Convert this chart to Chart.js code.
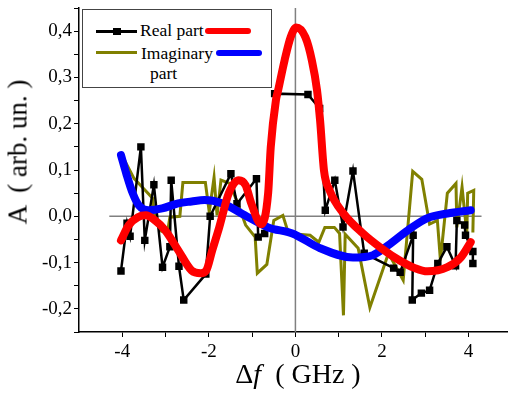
<!DOCTYPE html>
<html>
<head>
<meta charset="utf-8">
<script src="https://cdn.jsdelivr.net/npm/chart.js@4.4.0/dist/chart.umd.min.js"></script>
<style>
    body { margin: 0; background: #fff; }
    #wrap { position: relative; width: 514px; height: 394px; font-family: 'Liberation Serif', 'Times New Roman', serif; }
    #chart { position: absolute; left: 0; top: 0; }
    .abs { position: absolute; line-height: 1; white-space: pre; color: #000; }
    #legend { position: absolute; left: 82px; top: 9px; width: 188px; height: 77px; border: 1px solid #444; background: #fff; }
</style>
</head>
<body>
<div id="wrap">
    <canvas id="chart" width="514" height="394"></canvas>
    <div id="legend"></div>
    <div class="abs" style="left:96px;top:29.5px;width:41px;height:3px;background:#000"></div>
    <div class="abs" style="left:113px;top:27.5px;width:8px;height:7px;background:#000"></div>
    <div class="abs" style="left:140px;top:22px;font-size:17.5px">Real part</div>
    <div class="abs" style="left:205px;top:28px;width:46px;height:6px;border-radius:3px;background:#ff0000"></div>
    <div class="abs" style="left:96px;top:51px;width:41px;height:3px;background:#808000"></div>
    <div class="abs" style="left:141px;top:45.3px;font-size:17.5px">Imaginary</div>
    <div class="abs" style="left:216px;top:49.7px;width:46px;height:6px;border-radius:3px;background:#0000ff"></div>
    <div class="abs" style="left:150px;top:65.3px;font-size:17.5px">part</div>
    <div class="abs" id="xtitle" style="left:298px;top:359.5px;font-size:28px;transform:translateX(-50%)">Δ<i>f</i>  ( GHz )</div>
    <div class="abs" id="ytitle" style="left:18px;top:152px;font-size:27px;transform:translate(-50%,-50%) rotate(-90deg)">A  ( arb. un. )</div>
</div>
<script>
// measured data (GHz, arb. un.)
const realX = [-4.03, -3.89, -3.82, -3.57, -3.48, -3.27, -3.07, -2.90, -2.87, -2.69, -2.58, -2.07, -1.97, -1.49, -1.35, -0.90, -0.86, -0.71, -0.48, 0.29, 0.56, 0.69, 0.91, 1.10, 1.33, 1.59, 2.27, 2.42, 2.72, 2.70, 2.91, 3.10, 3.29, 3.50, 3.70, 3.73, 3.91, 3.93, 4.10, 4.10];
const realY = [-0.118, -0.015, -0.043, 0.150, -0.052, 0.068, -0.110, -0.066, 0.078, -0.108, -0.181, -0.125, 0.000, 0.092, 0.027, 0.081, -0.045, -0.037, 0.265, 0.263, 0.233, 0.013, 0.078, -0.023, 0.098, -0.080, -0.112, -0.121, -0.041, -0.181, -0.166, -0.160, -0.102, -0.066, -0.107, -0.009, -0.019, -0.041, -0.076, -0.102];

const imagX = [-4.03, -3.73, -3.51, -3.30, -3.24, -3.10, -2.96, -2.90, -2.67, -2.60, -2.08, -1.99, -1.88, -1.81, -1.72, -1.52, -1.36, -1.15, -0.93, -0.88, -0.66, -0.50, -0.29, -0.16, 0.34, 0.54, 0.68, 0.90, 1.02, 1.11, 1.15, 1.45, 1.72, 2.15, 2.49, 2.71, 2.92, 3.10, 3.28, 3.35, 3.51, 3.71, 3.73, 3.85, 3.96, 3.98, 4.12, 4.10];
const imagY = [0.136, 0.082, 0.060, 0.039, -0.009, -0.032, -0.037, -0.002, 0.000, 0.073, 0.073, 0.009, 0.084, 0.002, 0.078, 0.071, 0.035, -0.019, -0.045, -0.123, -0.104, -0.009, 0.002, -0.037, -0.041, -0.056, -0.024, -0.024, -0.037, -0.214, -0.039, -0.069, -0.197, -0.080, -0.138, 0.097, 0.080, -0.017, -0.009, -0.095, 0.050, 0.071, -0.024, 0.063, -0.037, 0.050, 0.056, -0.035];

// fitted curves
const fitReX = [-4.03, -3.85, -3.64, -3.46, -3.24, -3.01, -2.71, -2.40, -2.19, -2.06, -1.92, -1.76, -1.54, -1.31, -1.15, -1.02, -0.79, -0.63, -0.57, -0.45, -0.40, -0.25, -0.11, 0.02, 0.23, 0.38, 0.50, 0.57, 0.66, 0.79, 1.11, 1.56, 2.00, 2.40, 2.76, 3.05, 3.51, 3.82, 4.05];
const fitReY = [-0.052, -0.019, -0.002, 0.002, -0.009, -0.030, -0.073, -0.117, -0.123, -0.117, -0.073, -0.024, 0.050, 0.078, 0.067, 0.028, -0.017, 0.050, 0.149, 0.251, 0.272, 0.337, 0.387, 0.408, 0.387, 0.337, 0.272, 0.207, 0.099, 0.056, 0.006, -0.037, -0.070, -0.095, -0.112, -0.119, -0.110, -0.089, -0.056];

const fitImX = [-4.03, -3.91, -3.76, -3.62, -3.39, -3.08, -2.71, -2.40, -2.10, -1.70, -1.09, -0.63, -0.07, 0.57, 1.33, 1.79, 2.08, 2.60, 3.05, 3.51, 4.05];
const fitImY = [0.132, 0.093, 0.050, 0.024, 0.013, 0.017, 0.028, 0.032, 0.035, 0.028, -0.002, -0.024, -0.037, -0.069, -0.089, -0.084, -0.067, -0.030, -0.004, 0.006, 0.013];

// axes
const xTicks = [-4, -3, -2, -1, 0, 1, 2, 3, 4];
const yTicks = [-0.25, -0.2, -0.15, -0.1, -0.05, 0, 0.05, 0.1, 0.15, 0.2, 0.25, 0.3, 0.35, 0.4, 0.45];
const zeroLineX = [-4.3, 4.3];
const zeroLineY = [-0.25, 0.45];

const pts = (xs, ys) => xs.map((x, i) => ({ x: x, y: ys[i] }));

const canvas = document.getElementById('chart');
const chart = new Chart(canvas, {
    type: 'line',
    data: {
        datasets: [{
            label: 'Real part fit',
            data: pts(fitReX, fitReY),
            borderColor: '#ff0000',
            borderWidth: 8,
            borderCapStyle: 'round',
            borderJoinStyle: 'round',
            cubicInterpolationMode: 'monotone',
            pointRadius: 0
        }, {
            label: 'Imaginary part fit',
            data: pts(fitImX, fitImY),
            borderColor: '#0000ff',
            borderWidth: 8,
            borderCapStyle: 'round',
            cubicInterpolationMode: 'monotone',
            pointRadius: 0
        }, {
            label: 'Real part',
            data: pts(realX, realY),
            borderColor: '#000',
            borderWidth: 2.5,
            tension: 0,
            pointStyle: 'rect',
            pointRadius: 3.5,
            pointBackgroundColor: '#000',
            pointBorderColor: '#000'
        }, {
            label: 'Imaginary part',
            data: pts(imagX, imagY),
            borderColor: '#808000',
            borderWidth: 3,
            tension: 0,
            pointRadius: 0
        }, {
            label: 'zero h',
            data: pts(zeroLineX, [0, 0]),
            borderColor: '#808080',
            borderWidth: 1.5,
            pointRadius: 0
        }, {
            label: 'zero v',
            data: pts([0, 0], zeroLineY),
            borderColor: '#808080',
            borderWidth: 1.5,
            pointRadius: 0
        }]
    },
    options: {
        responsive: false,
        animation: false,
        devicePixelRatio: 1,
        layout: { padding: { top: 8, left: 0, right: 0, bottom: 0 } },
        plugins: { legend: { display: false }, tooltip: { enabled: false } },
        scales: {
            x: {
                type: 'linear',
                min: -5,
                max: 4.9,
                afterBuildTicks: (scale) => { scale.ticks = xTicks.map(v => ({ value: v })); },
                afterFit: (scale) => {
                    scale.height = 62;
                    scale.paddingLeft = 0;
                    scale.paddingRight = 0;
                },
                ticks: {
                    autoSkip: false,
                    maxRotation: 0,
                    padding: 4,
                    color: '#000',
                    font: { family: 'Liberation Serif', size: 19 },
                    callback: (value) => (value % 2 === 0 ? String(value) : '')
                },
                grid: { drawOnChartArea: false, drawTicks: true, tickLength: 5, color: '#000', lineWidth: 1 },
                border: { display: true, color: '#000', width: 1.5 }
            },
            y: {
                type: 'linear',
                min: -0.25,
                max: 0.45,
                afterBuildTicks: (scale) => { scale.ticks = yTicks.map(v => ({ value: v })); },
                afterFit: (scale) => {
                    scale.width = 79;
                    scale.paddingTop = 0;
                    scale.paddingBottom = 0;
                },
                ticks: {
                    autoSkip: false,
                    padding: 2,
                    color: '#000',
                    font: { family: 'Liberation Serif', size: 19 },
                    callback: (value) => {
                        const t = Math.round(value * 100);
                        if (t % 10 !== 0 || t === 50 || t === -30) return '';
                        return (t / 100).toFixed(1).replace('.', ',');
                    }
                },
                grid: { drawOnChartArea: false, drawTicks: true, tickLength: 5, color: '#000', lineWidth: 1 },
                border: { display: true, color: '#000', width: 1.5 }
            }
        }
    }
});
</script>
</body>
</html>
